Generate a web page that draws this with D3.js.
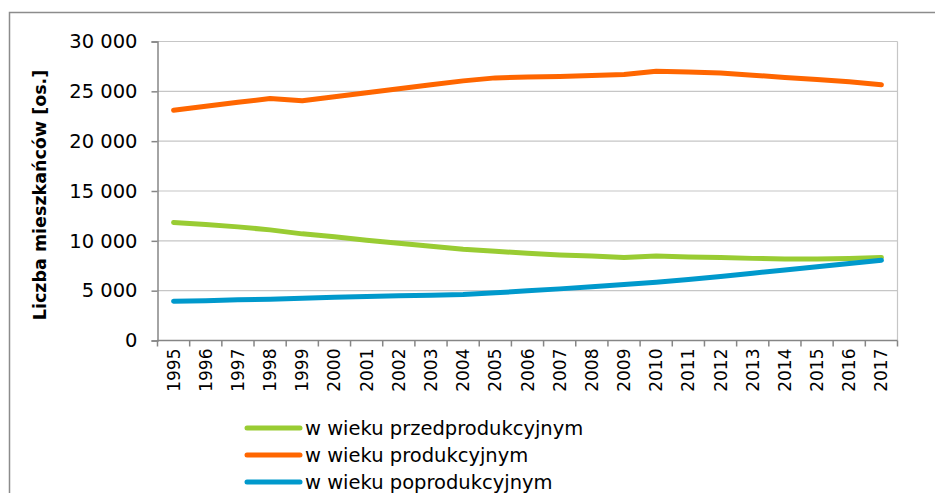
<!DOCTYPE html>
<html>
<head>
<meta charset="utf-8">
<script src="https://cdn.jsdelivr.net/npm/d3@7"></script>
<style>
  body { margin: 0; background: #fff; }
  svg { display: block; }
</style>
</head>
<body>
<div id="container"></div>
<script>
// lata i liczba mieszkańców w grupach wieku
let years = ["1995","1996","1997","1998","1999","2000","2001","2002","2003","2004","2005","2006",
  "2007","2008","2009","2010","2011","2012","2013","2014","2015","2016","2017"];
let przedprodukcyjny = [11850,11650,11400,11100,10700,10400,10050,9750,9450,9150,8950,8750,
  8580,8470,8340,8480,8370,8330,8240,8180,8180,8230,8340];
let produkcyjny = [23100,23500,23900,24280,24050,24450,24850,25250,25650,26050,26350,26450,
  26480,26580,26680,27020,26950,26850,26620,26390,26180,25950,25650];
let poprodukcyjny = [3950,4000,4080,4150,4250,4350,4420,4500,4550,4620,4780,4980,
  5180,5400,5620,5850,6120,6420,6750,7070,7400,7730,8050];
let yTicks = [0,5000,10000,15000,20000,25000,30000];
let seriesNames = ["w wieku przedprodukcyjnym","w wieku produkcyjnym","w wieku poprodukcyjnym"];
let seriesColors = ["#99cc33","#ff6600","#0099cc"];

let w = 935;
let h = 493;
let plotLeft = 157.5, plotRight = 897.5, plotTop = 41.5, plotBottom = 340.5;

let viz = d3.select("#container")
  .append("svg")
    .attr("width", w)
    .attr("height", h)
;

// ramka wykresu
viz.append("rect")
  .attr("x", 9.5).attr("y", 12.5)
  .attr("width", 940).attr("height", 500)
  .attr("fill", "#fff")
  .attr("stroke", "#8c8c8c")
  .attr("stroke-width", 1.5)
;

let xScale = d3.scaleBand().domain(years).range([plotLeft, plotRight]);
let yScale = d3.scaleLinear().domain([0, 30000]).range([plotBottom, plotTop]);

let pl = d3.formatLocale({decimal: ",", thousands: " ", grouping: [3], currency: ["", " zł"]});
let fmt = pl.format(",d");

// linie siatki
viz.append("g").selectAll("line").data(yTicks.filter(d => d > 0)).enter()
  .append("line")
    .attr("x1", plotLeft).attr("x2", plotRight)
    .attr("y1", d => yScale(d)).attr("y2", d => yScale(d))
    .attr("stroke", "#c6c6c6")
    .attr("stroke-width", 1.2)
;
viz.append("line")
  .attr("x1", plotRight).attr("x2", plotRight)
  .attr("y1", plotTop).attr("y2", plotBottom)
  .attr("stroke", "#c6c6c6")
  .attr("stroke-width", 1.2)
;

// oś Y
let yAxis = d3.axisLeft(yScale).tickValues(yTicks).tickFormat(fmt).tickSize(6).tickPadding(14);
let yAxisGroup = viz.append("g")
    .attr("transform", "translate(" + plotLeft + ",0)")
    .call(yAxis)
;
yAxisGroup.select(".domain").attr("stroke", "#868686").attr("stroke-width", 1.5);
yAxisGroup.selectAll(".tick line").attr("stroke", "#868686").attr("stroke-width", 1.5);
yAxisGroup.selectAll(".tick text")
  .attr("font-family", "DejaVu Sans")
  .attr("font-size", 19.5)
  .attr("fill", "#000")
;

// oś X z podziałką na granicach kategorii
let xAxisGroup = viz.append("g");
xAxisGroup.append("line")
  .attr("x1", plotLeft).attr("x2", plotRight)
  .attr("y1", plotBottom).attr("y2", plotBottom)
  .attr("stroke", "#868686").attr("stroke-width", 1.5)
;
let edges = years.map(d => xScale(d)).concat([plotRight]);
xAxisGroup.selectAll(".xtick").data(edges).enter()
  .append("line")
    .attr("class", "xtick")
    .attr("x1", d => d).attr("x2", d => d)
    .attr("y1", plotBottom).attr("y2", plotBottom + 6)
    .attr("stroke", "#868686").attr("stroke-width", 1.5)
;
xAxisGroup.selectAll(".xlabel").data(years).enter()
  .append("text")
    .attr("class", "xlabel")
    .attr("transform", d => "translate(" + (xScale(d) + xScale.bandwidth() / 2) + "," + (plotBottom + 8) + ") rotate(-90)")
    .attr("text-anchor", "end")
    .attr("dominant-baseline", "central")
    .attr("font-family", "DejaVu Sans")
    .attr("font-size", 17)
    .attr("fill", "#000")
    .text(d => d)
;

// tytuł osi Y
viz.append("text")
  .attr("transform", "translate(40,195) rotate(-90)")
  .attr("text-anchor", "middle")
  .attr("dominant-baseline", "central")
  .attr("font-family", "DejaVu Sans")
  .attr("font-weight", "bold")
  .attr("font-size", 17.5)
  .text("Liczba mieszkańców [os.]")
;

// serie
let series = [przedprodukcyjny, produkcyjny, poprodukcyjny];
let lineMaker = d3.line()
  .x(function(d, i){ return xScale(years[i]) + xScale.bandwidth() / 2; })
  .y(function(d){ return yScale(d); })
;
let graphGroup = viz.append("g");
graphGroup.selectAll(".line").data(series).enter()
  .append("path")
    .attr("class", "line")
    .attr("d", lineMaker)
    .attr("fill", "none")
    .attr("stroke", (d, i) => seriesColors[i])
    .attr("stroke-width", 5)
    .attr("stroke-linecap", "round")
    .attr("stroke-linejoin", "round")
;

// legenda
let legend = viz.append("g").selectAll("g").data(seriesNames).enter()
  .append("g")
    .attr("transform", (d, i) => "translate(247," + (428 + i * 27) + ")")
;
legend.append("line")
  .attr("x1", 0).attr("x2", 53)
  .attr("stroke", (d, i) => seriesColors[i])
  .attr("stroke-width", 5)
  .attr("stroke-linecap", "round")
;
legend.append("text")
  .attr("x", 58)
  .attr("dominant-baseline", "central")
  .attr("font-family", "DejaVu Sans")
  .attr("font-size", 19.5)
  .attr("fill", "#000")
  .text(d => d)
;
</script>
</body>
</html>
